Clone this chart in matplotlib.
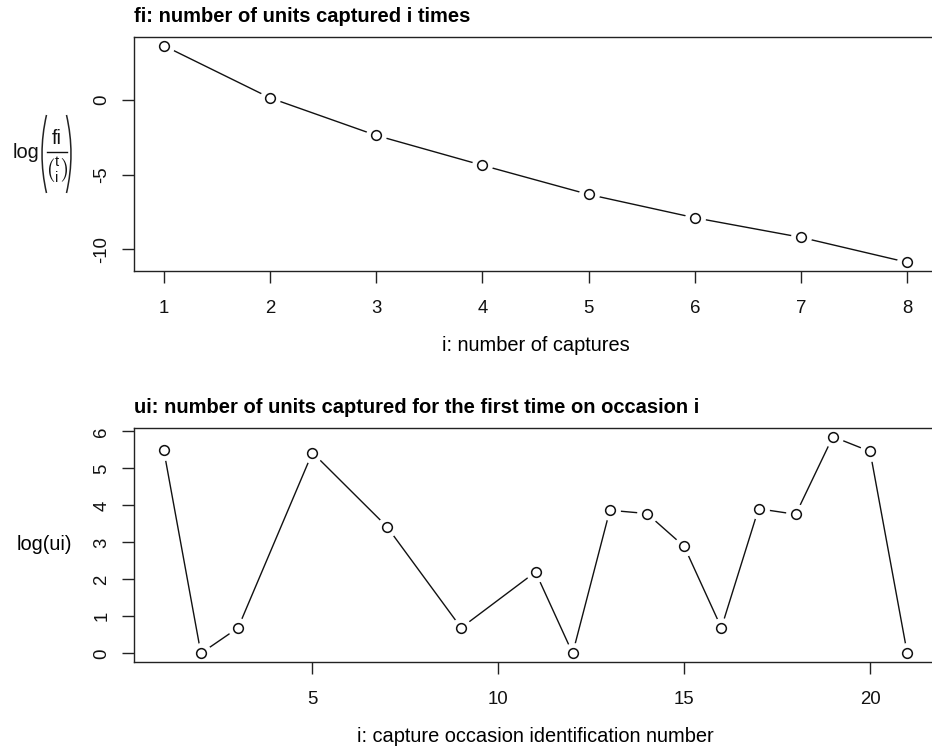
import matplotlib
matplotlib.use("Agg")
import matplotlib.pyplot as plt
from matplotlib.path import Path
from matplotlib.patches import PathPatch
from matplotlib.lines import Line2D

plt.rcParams['font.family'] = ['Liberation Sans', 'DejaVu Sans']
plt.rcParams['mathtext.fontset'] = 'custom'
plt.rcParams['mathtext.rm'] = 'Liberation Sans'
plt.rcParams['mathtext.it'] = 'Liberation Sans:italic'
plt.rcParams['mathtext.bf'] = 'Liberation Sans:bold'
plt.rcParams['axes.unicode_minus'] = False

# ---- data ----
captures_i = [1, 2, 3, 4, 5, 6, 7, 8]
log_fi_binom = [3.62, 0.13, -2.38, -4.38, -6.33, -7.89, -9.20, -10.87]

occasion_i = [1, 2, 3, 5, 7, 9, 11, 12, 13, 14, 15, 16, 17, 18, 19, 20, 21]
log_ui = [5.50, 0.0, 0.69, 5.43, 3.43, 0.69, 2.20, 0.0, 3.87, 3.78, 2.89,
          0.69, 3.91, 3.76, 5.86, 5.46, 0.0]

top_yticks = [0, -5, -10]
top_xticks = [1, 2, 3, 4, 5, 6, 7, 8]
bot_yticks = [0, 1, 2, 3, 4, 5, 6]
bot_xticks = [5, 10, 15, 20]

fig = plt.figure(figsize=(9.32, 7.48), dpi=100)
W, H = 932, 748

def fx(x):
    return x / W

def fy(y):
    return 1 - y / H

def add_ax(left, top, right, bottom):
    return fig.add_axes([left / W, 1 - bottom / H, (right - left) / W, (bottom - top) / H])

ax1 = add_ax(134, 37, 937, 271)
ax2 = add_ax(134, 428, 937, 662)

def r_style(ax):
    for s in ax.spines.values():
        s.set_linewidth(1.0)
        s.set_color('#222222')
    ax.tick_params(axis='both', direction='out', length=8.6, width=1.0,
                   color='#222222', labelsize=13.4, labelcolor='#111111')
    ax.tick_params(axis='x', pad=12)
    ax.tick_params(axis='y', pad=8.5)
    for lab in ax.get_yticklabels():
        lab.set_rotation(90)
        lab.set_va('center')

def draw_b(ax, x, y):
    ax.plot(x, y, color='#111111', lw=1.0, zorder=1)
    ax.plot(x, y, ls='none', marker='o', ms=14, mfc='white', mec='white', zorder=2)
    ax.plot(x, y, ls='none', marker='o', ms=7.0, mfc='white', mec='#111111', mew=1.1, zorder=3)

def pad_lim(vals):
    lo, hi = min(vals), max(vals)
    d = (hi - lo) * 0.04
    return lo - d, hi + d

LAB = 14.4

# top panel
draw_b(ax1, captures_i, log_fi_binom)
ax1.set_xlim(*pad_lim(captures_i))
ax1.set_ylim(*pad_lim(log_fi_binom))
ax1.set_xticks(top_xticks)
ax1.set_yticks(top_yticks)
r_style(ax1)
ax1.set_title('fi: number of units captured i times', loc='left',
              fontsize=14.5, fontweight='bold', pad=11)
ax1.set_xlabel('i: number of captures', fontsize=LAB, labelpad=14)

# y label of top panel: log( fi / binom(t, i) ), built from pieces
fig.text(fx(26), fy(153), 'log', fontsize=LAB, ha='center', va='center', color='#111111')
fig.text(fx(57), fy(138), 'fi', fontsize=LAB, ha='center', va='center', color='#111111')
fig.add_artist(Line2D([fx(47), fx(67)], [fy(152), fy(152)], color='#111111', lw=1.0))
fig.text(fx(57), fy(170), r'$\binom{\mathrm{t}}{\mathrm{i}}$', fontsize=15,
         ha='center', va='center', color='#111111')
for (x0, xc) in [(46.5, 37.5), (66.5, 75.5)]:
    p = Path([(fx(x0), fy(115)), (fx(xc), fy(154)), (fx(x0), fy(193))],
             [Path.MOVETO, Path.CURVE3, Path.CURVE3])
    fig.add_artist(PathPatch(p, fill=False, lw=1.1, edgecolor='#222222',
                             transform=fig.transFigure))

# bottom panel
draw_b(ax2, occasion_i, log_ui)
ax2.set_xlim(*pad_lim(occasion_i))
ax2.set_ylim(*pad_lim(log_ui))
ax2.set_xticks(bot_xticks)
ax2.set_yticks(bot_yticks)
r_style(ax2)
ax2.set_title('ui: number of units captured for the first time on occasion i', loc='left',
              fontsize=14.5, fontweight='bold', pad=11)
ax2.set_xlabel('i: capture occasion identification number', fontsize=LAB, labelpad=14)
ax2.set_ylabel('log(ui)', fontsize=LAB, rotation=0, va='center', ha='center')
ax2.yaxis.set_label_coords(-0.111, 0.5)

fig.savefig('out.png', dpi=100)
